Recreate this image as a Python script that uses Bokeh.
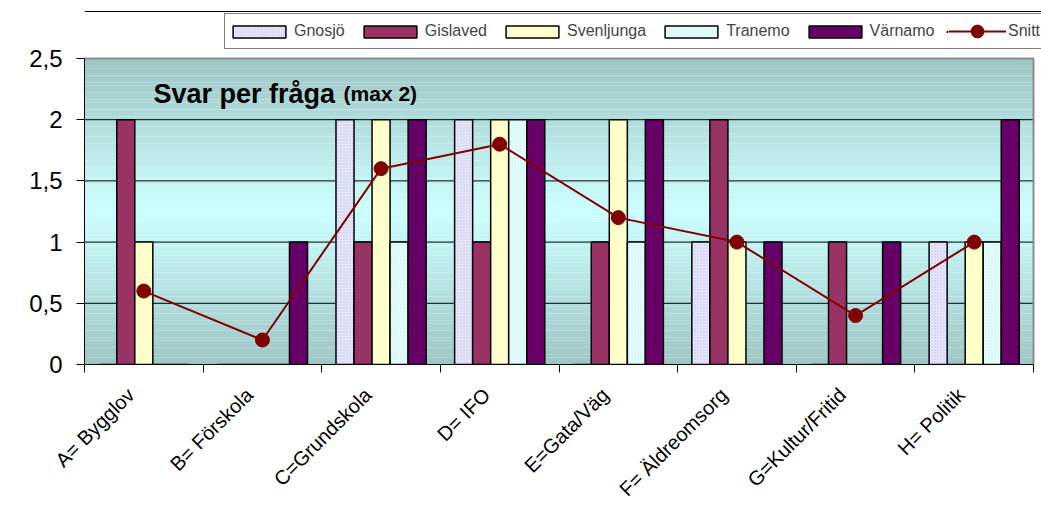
import math
import numpy as np
from bokeh.plotting import figure
from bokeh.models import (FixedTicker, Legend, LegendItem, Label, ColumnDataSource, Range1d, Span)
from bokeh.transform import dodge
from bokeh.embed import file_html
from bokeh.resources import INLINE

# ---------------- data ----------------
categories = ["A= Bygglov", "B= Förskola", "C=Grundskola", "D= IFO",
              "E=Gata/Väg", "F= Äldreomsorg", "G=Kultur/Fritid", "H= Politik"]
series_names = ["Gnosjö", "Gislaved", "Svenljunga", "Tranemo", "Värnamo"]
gnosjo = [0, 0, 2, 2, 0, 1, 0, 1]
gislaved = [2, 0, 1, 1, 1, 2, 1, 0]
svenljunga = [1, 0, 2, 2, 2, 1, 0, 1]
tranemo = [0, 0, 1, 2, 1, 0, 0, 1]
varnamo = [0, 1, 2, 2, 2, 1, 1, 2]
snitt = [0.6, 0.2, 1.6, 1.8, 1.2, 1.0, 0.4, 1.0]
snitt_name = "Snitt"
y_ticks = [0, 0.5, 1, 1.5, 2, 2.5]
y_tick_labels = ["0", "0,5", "1", "1,5", "2", "2,5"]

# ---------------- styles / layout ----------------
FONT = "Liberation Sans"
bar_styles = [
    dict(fill_color="#eeeeff", hatch_pattern="x", hatch_color="#b8b8ee", hatch_scale=3, hatch_weight=0.5),
    dict(fill_color="#993366"),
    dict(fill_color="#ffffcc"),
    dict(fill_color="#eaffff", hatch_pattern="x", hatch_color="#c4ecec", hatch_scale=3, hatch_weight=0.5),
    dict(fill_color="#660066"),
]
BAR_W = 0.152
Y_MAX = 2.5
LABEL_SHIFT = -0.11
n_cat = len(categories)

# plot area in pixels: 84..1033 wide, 58..364 tall; frame extended to top/right edge
PX_PER_X = 949 / n_cat
PX_PER_Y = 306 / Y_MAX
x_hi = n_cat + 8 / PX_PER_X
y_hi = Y_MAX + 58 / PX_PER_Y

cx = [i + 0.5 for i in range(n_cat)]
src = ColumnDataSource(dict(cx=cx, gnosjo=gnosjo, gislaved=gislaved, svenljunga=svenljunga,
                            tranemo=tranemo, varnamo=varnamo, snitt=snitt))
cols = ["gnosjo", "gislaved", "svenljunga", "tranemo", "varnamo"]

p = figure(width=1041, height=512, x_range=Range1d(0, x_hi), y_range=Range1d(0, y_hi),
           output_backend="svg", toolbar_location=None,
           min_border_left=84, min_border_right=0, min_border_top=0, min_border_bottom=148)
p.border_fill_color = "white"
p.background_fill_color = "white"
p.outline_line_color = None

# gradient background (decoration)
nb = 90
edges = np.linspace(0, Y_MAX, nb + 1)
mids = (edges[:-1] + edges[1:]) / 2
mid_c = np.array([204, 255, 255])
edge_c = np.array([157, 197, 196])
band_cols = []
for m in mids:
    t = abs(m - Y_MAX / 2) / (Y_MAX / 2)
    c = mid_c + (edge_c - mid_c) * t
    band_cols.append("#%02x%02x%02x" % tuple(int(round(v)) for v in c))
p.quad(left=0, right=n_cat, bottom=edges[:-1], top=edges[1:], fill_color=band_cols,
       line_color=None, level="image")

# grid lines limited to the plot area
grid_vals = [t for t in y_ticks if 0 < t < Y_MAX]
p.segment(x0=[0] * len(grid_vals), x1=[n_cat] * len(grid_vals), y0=grid_vals, y1=grid_vals,
          line_color="black", line_width=1, level="underlay")
# plot-area border (top and right, gray)
p.line(x=[0, n_cat, n_cat], y=[Y_MAX, Y_MAX, 0], line_color="#8c8c8c", line_width=2, level="underlay")
# outer chart border top line
p.add_layout(Span(location=Y_MAX + 47 / PX_PER_Y, dimension="width", line_color="black", line_width=1))

# bars
bar_renderers = []
for j, (col, st) in enumerate(zip(cols, bar_styles)):
    r = p.vbar(x=dodge("cx", (j - 2) * BAR_W, range=p.x_range), top=col, bottom=0, width=BAR_W,
               source=src, line_color="black", line_width=1.5, **st)
    bar_renderers.append(r)

# average line
ln = p.line(x="cx", y="snitt", source=src, line_color="#800000", line_width=2)
sc = p.scatter(x="cx", y="snitt", source=src, size=14, fill_color="#800000", line_color="#800000")

# axes
p.yaxis.bounds = (0, Y_MAX)
p.yaxis.ticker = FixedTicker(ticks=y_ticks)
p.yaxis.major_label_overrides = {t: l for t, l in zip(y_ticks, y_tick_labels)}
p.yaxis.major_tick_out = 8
p.yaxis.major_tick_in = 0
p.yaxis.minor_tick_line_color = None
p.yaxis.major_label_standoff = 14
p.yaxis.major_label_text_font = FONT
p.yaxis.major_label_text_font_size = "24px"
p.yaxis.major_label_text_color = "black"
p.yaxis.axis_line_color = "black"
p.yaxis.major_tick_line_color = "black"

label_pos = [c + LABEL_SHIFT for c in cx]
p.xaxis.bounds = (0, n_cat)
p.xaxis.ticker = FixedTicker(ticks=label_pos, minor_ticks=list(range(n_cat + 1)))
p.xaxis.major_label_overrides = {t: l for t, l in zip(label_pos, categories)}
p.xaxis.major_label_orientation = math.pi / 4
p.xaxis.major_tick_line_color = None
p.xaxis.major_tick_out = 8
p.xaxis.major_tick_in = 0
p.xaxis.minor_tick_out = 8
p.xaxis.minor_tick_in = 0
p.xaxis.minor_tick_line_color = "black"
p.xaxis.major_label_standoff = 19
p.xaxis.major_label_text_font = FONT
p.xaxis.major_label_text_font_size = "20px"
p.xaxis.major_label_text_color = "black"
p.xaxis.axis_line_color = "black"

p.xgrid.visible = False
p.ygrid.visible = False

# title inside plot
p.add_layout(Label(x=0.582, y=2.214, text="Svar per fråga", text_font=FONT, text_font_style="bold",
                   text_font_size="27px", text_baseline="alphabetic", text_color="black"))
p.add_layout(Label(x=2.184, y=2.214, text="(max 2)", text_font=FONT, text_font_style="bold",
                   text_font_size="21px", text_baseline="alphabetic", text_color="black"))

# legend box with all entries (last entry's text is drawn by the overlay legend below)
items = [LegendItem(label=n, renderers=[r]) for n, r in zip(series_names, bar_renderers)]
items.append(LegendItem(label="\u00a0" * 9, renderers=[ln, sc]))
legend = Legend(items=items, orientation="horizontal", location=(140, 315), padding=1,
                label_height=32, label_width=10, glyph_width=66, glyph_height=15, label_standoff=2,
                spacing=12, border_line_color="black", border_line_width=1,
                background_fill_color="white", background_fill_alpha=1, label_text_font=FONT,
                label_text_font_size="16px", margin=0)
p.add_layout(legend)

# overlay for the average entry with a larger marker
legend2 = Legend(items=[LegendItem(label=snitt_name, renderers=[ln, sc])], orientation="horizontal",
                 location=(864, 317), padding=0, label_height=30, label_width=10, glyph_width=58,
                 glyph_height=32, label_standoff=2, spacing=0, border_line_color=None,
                 background_fill_color="white", background_fill_alpha=1, label_text_font=FONT,
                 label_text_font_size="16px", margin=0)
p.add_layout(legend2)

open("out.html", "w").write(file_html(p, INLINE))
